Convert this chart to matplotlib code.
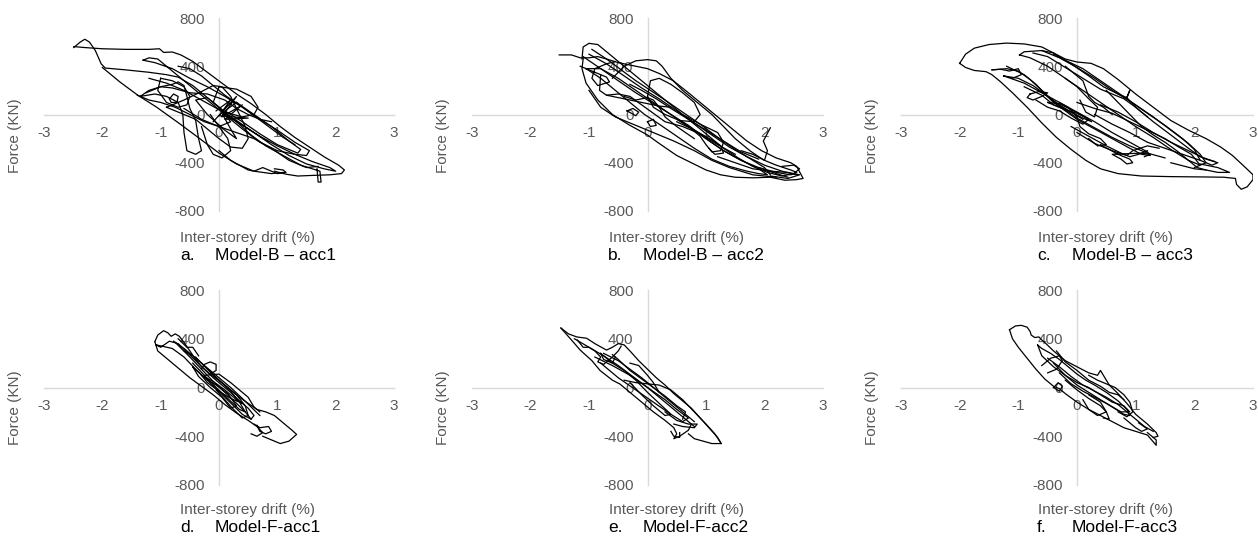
import matplotlib
matplotlib.use("Agg")
import matplotlib.pyplot as plt
import numpy as np

plt.rcParams['font.family'] = ['Liberation Sans', 'DejaVu Sans']

W, H = 1258, 551

# Tick values shared by all panels
x_ticks = [-3, -2, -1, 0, 1, 2, 3]
y_ticks = [-800, -400, 0, 400, 800]

# Captions
letters = ["a.", "b.", "c.", "d.", "e.", "f."]
captions = ["Model-B \u2013 acc1", "Model-B \u2013 acc2", "Model-B \u2013 acc3",
            "Model-F-acc1", "Model-F-acc2", "Model-F-acc3"]

# Hysteresis traces (drift %, force kN)
curves_a = [
    [(-2.49, 563), (-2.3, 555), (-2.0, 545), (-1.6, 540), (-1.2, 540), (-1.02, 545), (-0.95, 515),
     (-0.8, 518), (-0.65, 493), (-0.45, 440), (-0.2, 350), (0.05, 260), (0.3, 170), (0.55, 90),
     (0.8, 0), (1.05, -100), (1.3, -190), (1.55, -270), (1.8, -350), (2.05, -420), (2.15, -460),
     (2.1, -490), (1.9, -500), (1.6, -505), (1.35, -510), (1.15, -495), (0.95, -470)],
    [(-2.49, 555), (-2.38, 600), (-2.3, 624), (-2.22, 600), (-2.12, 530), (-2.02, 420), (-1.95, 385),
     (-1.6, 370), (-1.2, 350), (-0.9, 330), (-0.7, 310), (-0.45, 240), (-0.2, 140), (0.05, 40),
     (0.3, -60), (0.55, -170), (0.8, -260), (1.1, -340), (1.4, -420), (1.73, -470), (1.75, -560),
     (1.7, -560), (1.68, -450)],
    [(-2.0, 390), (-1.7, 270), (-1.39, 159), (-1.07, 61), (-0.67, -78), (-0.33, -200), (0.0, -320),
     (0.3, -410), (0.6, -470), (0.9, -490), (1.1, -480)],
    [(-1.3, 450), (-1.2, 470), (-1.05, 460), (-0.9, 400), (-0.7, 320), (-0.45, 220), (-0.2, 120),
     (0.1, 0), (0.4, -120), (0.7, -230), (1.0, -300), (1.3, -330), (1.5, -340), (1.55, -300),
     (1.3, -230), (1.0, -130), (0.7, -40), (0.4, 60), (0.1, 150), (-0.2, 230), (-0.5, 300),
     (-0.8, 380), (-1.1, 430), (-1.3, 450)],
    [(-1.35, 150), (-1.2, 200), (-1.0, 230), (-0.8, 250), (-0.7, 270), (-0.6, 240), (-0.55, 150),
     (-0.5, 50), (-0.4, -50), (-0.35, -200), (-0.3, -300), (-0.4, -330), (-0.55, -300), (-0.6, -150),
     (-0.62, 0), (-0.7, 100), (-0.9, 150), (-1.1, 170), (-1.35, 150)],
    [(-0.9, 60), (-0.6, 120), (-0.3, 190), (-0.1, 240), (0.05, 230), (0.2, 150), (0.35, 0),
     (0.45, -100), (0.5, -200), (0.4, -280), (0.2, -270), (0.0, -200), (-0.2, -120), (-0.4, -40),
     (-0.7, 20), (-0.9, 60)],
    [(-0.1, -60), (0.3, 150), (0.05, -20), (0.4, 80), (0.1, -40), (0.5, -30), (0.0, -10),
     (0.2, 120), (-0.05, 30)],
    [(0.0, -300), (0.2, -380), (0.5, -460), (0.6, -470), (0.75, -440), (0.9, -470), (1.0, -490),
     (1.15, -480), (1.1, -460), (0.95, -450)],
    [(-0.85, 130), (-0.78, 170), (-0.7, 150), (-0.72, 100), (-0.82, 100), (-0.85, 130)],
    [(0.3, 100), (0.6, 0), (0.9, -100), (1.2, -220), (1.4, -290), (1.35, -320), (1.0, -250),
     (0.7, -160), (0.4, -60), (0.1, 30), (0.3, 100)],
    [(0.0, 230), (0.3, 210), (0.55, 150), (0.67, 60), (0.6, 0), (0.4, -20), (0.1, 20), (-0.1, 100),
     (0.0, 230)],
    [(-1.4, 160), (-1.2, 120), (-1.0, 100), (-0.75, 60), (-0.5, 0), (-0.25, -60), (0.0, -100),
     (0.3, -150), (0.6, -200), (0.9, -280), (1.2, -380), (1.5, -440), (1.7, -430)],
    [(-1.2, 300), (-0.9, 260), (-0.6, 200), (-0.3, 120), (0.0, 40), (0.3, -50), (0.6, -150),
     (0.9, -250), (1.2, -340), (1.5, -410), (1.8, -450), (2.0, -470), (1.9, -440), (1.6, -390),
     (1.3, -330), (1.0, -260), (0.7, -180), (0.4, -90), (0.1, 0)],
    [(-0.7, 400), (-0.5, 380), (-0.3, 320), (-0.1, 240), (0.1, 160), (0.35, 80), (0.6, -10),
     (0.85, -100), (1.1, -190), (1.3, -250)],
    [(-0.6, 50), (-0.3, -40), (0.0, -100), (0.2, -60), (0.0, 60), (-0.2, 140), (-0.4, 120),
     (-0.2, 0), (0.1, -130), (0.3, -200), (0.2, -120), (0.05, 10)],
    [(-1.0, 300), (-0.8, 280), (-0.6, 230), (-0.5, 150), (-0.55, 80), (-0.7, 60), (-0.9, 100),
     (-1.05, 200), (-1.0, 300)],
    [(-0.3, -100), (-0.2, -250), (-0.1, -330), (0.05, -360), (0.2, -300), (0.15, -200), (0.0, -100),
     (-0.15, 0)],
    [(-1.25, 180), (-1.0, 230), (-0.8, 220), (-0.5, 180), (-0.2, 170), (0.1, 120), (0.3, 50),
     (0.5, 0), (0.7, -40), (0.9, -60)],
]

curves_b = [
    [(-1.51, 494), (-1.3, 494), (-1.15, 470), (-1.0, 470), (-0.85, 480), (-0.7, 460), (-0.5, 430),
     (-0.2, 400), (0.0, 380), (0.2, 340), (0.44, 280), (0.7, 180), (0.95, 80), (1.2, -20),
     (1.45, -120), (1.7, -220), (1.95, -300), (2.2, -360), (2.45, -400), (2.55, -430), (2.66, -530),
     (2.55, -540), (2.35, -545), (2.1, -520), (1.8, -525), (1.5, -520), (1.25, -500), (1.0, -460),
     (0.75, -400), (0.5, -340), (0.2, -240), (0.0, -170), (-0.3, -90), (-0.6, 0), (-0.85, 120),
     (-1.05, 260), (-1.12, 380), (-1.1, 460)],
    [(-1.12, 460), (-1.1, 560), (-1.0, 590), (-0.85, 580), (-0.75, 540), (-0.65, 500), (-0.5, 440),
     (-0.3, 360), (-0.1, 280), (0.1, 200), (0.3, 120), (0.5, 40), (0.7, -40), (0.9, -120),
     (1.1, -200), (1.3, -280), (1.55, -360), (1.8, -430), (2.05, -480), (2.3, -510), (2.5, -490),
     (2.6, -450), (2.5, -420), (2.3, -430)],
    [(-0.6, 300), (-0.4, 400), (-0.2, 445), (0.0, 455), (0.15, 445), (0.25, 400), (0.4, 300),
     (0.6, 200), (0.85, 100), (1.1, 0), (1.3, -100), (1.5, -200), (1.75, -300), (1.9, -350),
     (2.0, -380), (2.05, -300), (1.98, -220), (2.1, -110)],
    [(-1.05, 380), (-0.8, 300), (-0.55, 200), (-0.3, 100), (-0.05, 0), (0.2, -80), (0.5, -180),
     (0.8, -280), (1.1, -370), (1.4, -430), (1.7, -470), (1.9, -490), (2.05, -500), (1.9, -450),
     (1.6, -380), (1.3, -300), (1.0, -200), (0.7, -90), (0.4, 0), (0.1, 100), (-0.2, 200),
     (-0.5, 300), (-0.8, 380), (-1.05, 380)],
    [(-0.8, 330), (-0.82, 200), (-0.7, 160), (-0.5, 170), (-0.3, 150), (-0.1, 80), (0.1, 10),
     (0.3, -60), (0.6, -100), (0.9, -160), (1.2, -250), (1.5, -330)],
    [(0.0, 150), (0.05, 280), (0.2, 300), (0.4, 250), (0.6, 180), (0.8, 100), (0.9, 0), (0.8, -60),
     (0.55, -50), (0.3, 0), (0.1, 60), (0.0, 150)],
    [(0.6, 0), (0.9, -80), (1.2, -150), (1.3, -230), (1.25, -300), (1.1, -310), (1.0, -250),
     (0.9, -180), (0.7, -100), (0.5, -40)],
    [(-1.0, 200), (-0.8, 60), (-0.55, -20), (-0.2, -90), (0.1, -150), (0.45, -220), (0.8, -300),
     (1.1, -380), (1.4, -440), (1.8, -500), (2.2, -520)],
    [(-0.35, 30), (-0.25, 50), (-0.15, 20), (-0.2, -10), (-0.35, 30)],
    [(0.0, -60), (0.1, -40), (0.15, -90), (0.05, -100), (0.0, -60)],
    [(-0.7, 160), (-0.4, 130), (-0.1, 100), (0.2, 70), (0.4, 60)],
    [(-1.0, 500), (-0.7, 420), (-0.4, 320), (-0.1, 220), (0.2, 130), (0.5, 30), (0.8, -70),
     (1.1, -170), (1.4, -270), (1.7, -350), (2.0, -420), (2.3, -470), (2.55, -500)],
    [(-1.1, 480), (-0.8, 380), (-0.5, 280), (-0.2, 180), (0.1, 90), (0.4, 0), (0.7, -100),
     (1.0, -200), (1.3, -300), (1.6, -380), (1.9, -440), (2.2, -490), (2.4, -520)],
    [(-0.95, 540), (-0.7, 460), (-0.45, 370), (-0.2, 280), (0.05, 200), (0.3, 120), (0.6, 20),
     (0.9, -80), (1.2, -190), (1.5, -290), (1.8, -380), (2.0, -440), (2.1, -500)],
    [(-1.15, 400), (-0.9, 350), (-0.7, 310), (-0.65, 270), (-0.85, 240), (-0.95, 300), (-0.9, 380),
     (-0.7, 420), (-0.55, 440)],
    [(-0.4, 150), (-0.2, 120), (0.0, 140), (0.1, 120), (0.2, 60), (0.3, -20), (0.5, -100),
     (0.8, -200)],
    [(1.6, -300), (1.8, -330), (2.0, -380), (2.2, -420), (2.45, -460), (2.55, -480), (2.45, -500),
     (2.2, -480), (1.9, -440)],
    [(0.5, -60), (0.8, -130), (1.1, -210), (1.25, -260), (1.3, -320), (1.15, -330), (1.05, -280)],
    [(1.2, -350), (1.5, -400), (1.8, -450), (2.1, -470), (2.4, -480), (2.6, -500), (2.4, -530),
     (2.1, -510)],
    [(-0.3, 250), (-0.1, 200), (0.15, 130), (0.4, 50), (0.7, -40), (1.0, -130), (1.3, -220),
     (1.6, -310), (1.9, -370)],
]

curves_c = [
    [(-2.0, 424), (-1.9, 500), (-1.75, 550), (-1.5, 580), (-1.2, 592), (-0.9, 585), (-0.6, 560),
     (-0.4, 510), (-0.2, 460), (0.0, 435), (0.24, 424), (0.45, 380), (0.7, 290), (1.0, 170),
     (1.3, 60), (1.6, -50), (1.9, -130), (2.2, -200), (2.45, -270), (2.65, -340), (2.85, -430),
     (3.0, -500), (3.0, -540), (2.9, -600), (2.8, -620), (2.72, -580), (2.7, -530), (2.5, -520),
     (2.2, -518), (1.6, -515), (1.1, -510), (0.7, -490), (0.4, -450), (0.15, -380), (-0.1, -290),
     (-0.35, -190), (-0.6, -70), (-0.85, 60), (-1.1, 180), (-1.3, 270), (-1.45, 330),
     (-1.55, 355), (-1.75, 365), (-1.9, 390), (-2.0, 424)],
    [(-0.98, 494), (-0.9, 520), (-0.6, 530), (-0.4, 510), (-0.2, 450), (0.1, 380), (0.4, 280),
     (0.7, 180), (1.0, 80), (1.3, -20), (1.6, -130), (1.9, -240), (2.1, -330), (2.2, -400),
     (2.1, -420), (1.9, -380), (1.6, -290), (1.3, -190), (1.0, -100), (0.7, 0), (0.4, 100),
     (0.1, 200), (-0.2, 300), (-0.5, 400), (-0.8, 470), (-0.98, 494)],
    [(-0.75, 510), (-0.5, 480), (-0.2, 390), (0.1, 300), (0.4, 210), (0.8, 130), (1.0, 60),
     (1.3, -60), (1.6, -170), (1.9, -280), (2.1, -350), (2.35, -390)],
    [(-0.2, 400), (0.1, 280), (0.2, 150), (0.3, 100), (0.45, 60), (0.6, 0)],
    [(-1.25, 320), (-1.0, 300), (-0.75, 240), (-0.55, 170), (-0.4, 100), (-0.2, 30), (0.0, -40),
     (0.3, -120), (0.6, -200), (0.9, -280), (1.1, -330), (1.25, -340), (1.2, -310), (0.9, -230),
     (0.6, -150), (0.3, -60), (0.0, 20), (-0.3, 100), (-0.6, 180), (-0.9, 260), (-1.25, 320)],
    [(-0.8, 170), (-0.85, 140), (-0.75, 120), (-0.6, 150), (-0.5, 180), (-0.65, 190), (-0.8, 170)],
    [(0.3, 0), (0.6, -80), (0.9, -150), (1.2, -230), (1.5, -280), (1.8, -330), (2.1, -380),
     (2.3, -420), (2.4, -400), (2.2, -370), (1.9, -300), (1.6, -230), (1.3, -150), (1.0, -60),
     (0.7, 20), (0.4, 80)],
    [(0.4, -250), (0.7, -330), (0.9, -370), (0.95, -400), (0.85, -410), (0.75, -370), (0.6, -330),
     (1.1, -320), (1.25, -330), (1.15, -350)],
    [(-0.5, 100), (-0.3, 60), (-0.1, 20), (0.1, -30), (0.25, -60), (0.1, -10), (-0.1, 40),
     (-0.3, 90), (-0.5, 100)],
    [(1.6, -400), (2.0, -450), (2.2, -460), (2.4, -480), (2.6, -480), (2.4, -440), (2.1, -410)],
    [(-1.45, 370), (-1.2, 380), (-1.0, 360), (-0.8, 290), (-0.6, 200), (-0.4, 110), (-0.2, 40),
     (0.0, -30), (0.3, -110), (0.6, -190), (0.9, -260), (1.2, -320), (1.5, -360)],
    [(-0.6, 530), (-0.3, 470), (0.0, 390), (0.3, 300), (0.6, 200), (0.9, 110), (1.2, 10),
     (1.5, -90), (1.8, -200), (2.0, -290), (2.1, -380)],
    [(-0.4, 500), (-0.1, 420), (0.2, 320), (0.45, 230), (0.7, 170), (0.85, 140), (0.9, 200),
     (0.85, 140), (1.0, 60), (1.2, -20)],
    [(0.0, 100), (0.3, 50), (0.6, 10), (0.9, -60), (1.2, -130), (1.5, -200), (1.7, -260),
     (1.95, -330), (2.1, -420), (2.0, -440)],
    [(-0.9, 230), (-0.6, 160), (-0.4, 80), (-0.2, 40), (0.0, 10), (0.2, -40), (0.1, -80),
     (-0.1, -30), (-0.3, 30), (-0.5, 60), (-0.7, 120)],
    [(-0.3, 100), (-0.15, 60), (0.0, -20), (0.05, -100), (0.2, -160), (0.4, -200), (0.5, -250),
     (0.35, -260), (0.2, -200)],
    [(-1.45, 370), (-1.3, 375), (-1.15, 360), (-1.0, 380), (-0.95, 330), (-1.1, 300)],
    [(-0.2, 300), (0.0, 230), (0.2, 130), (0.35, 60), (0.3, -20), (0.15, 20), (0.05, 120)],
    [(-0.1, -100), (0.2, -180), (0.5, -260), (0.75, -320), (0.9, -350), (1.05, -330), (1.2, -300)],
    [(0.0, -150), (0.3, -240), (0.6, -300), (0.85, -340), (0.95, -300), (1.2, -260), (1.4, -280)],
    [(0.5, 200), (0.7, 100), (0.9, 0), (1.1, -100), (1.3, -170), (1.5, -230), (1.7, -300),
     (1.9, -380), (2.05, -440), (2.2, -460)],
    [(-1.2, 400), (-0.9, 330), (-0.7, 250), (-0.5, 150), (-0.3, 80), (-0.1, 20), (0.1, -40)],
]

curves_d = [
    [(-1.1, 376), (-1.05, 430), (-0.95, 466), (-0.88, 450), (-0.82, 420), (-0.75, 440),
     (-0.68, 420), (-0.6, 370), (-0.5, 300), (-0.4, 230), (-0.3, 170), (-0.2, 130), (-0.1, 90),
     (0.05, 40), (0.2, -20), (0.35, -80), (0.5, -130), (0.65, -180), (0.8, -200), (0.95, -230),
     (1.1, -290), (1.25, -350), (1.33, -385), (1.2, -440), (1.05, -460), (0.9, -430), (0.75, -400)],
    [(-1.1, 376), (-1.05, 300), (-0.9, 240), (-0.7, 160), (-0.5, 80), (-0.3, 10), (-0.1, -60),
     (0.1, -140), (0.3, -210), (0.5, -270), (0.65, -320), (0.75, -370), (0.65, -400), (0.55, -380)],
    [(-1.08, 350), (-1.0, 330), (-0.85, 380), (-0.7, 360), (-0.55, 290), (-0.4, 220), (-0.25, 150),
     (-0.1, 80), (0.05, 20), (0.2, -40), (0.35, -110), (0.5, -170), (0.6, -230), (0.55, -260),
     (0.4, -220), (0.25, -150), (0.1, -80), (-0.05, -10), (-0.2, 60), (-0.4, 150), (-0.6, 250),
     (-0.8, 320), (-1.08, 350)],
    [(-0.3, 150), (-0.25, 190), (-0.15, 210), (-0.05, 190), (-0.05, 140), (-0.15, 110)],
    [(-0.4, 250), (-0.2, 150), (0.0, 60), (0.2, -30), (0.35, -120), (0.45, -200), (0.35, -180),
     (0.15, -90), (-0.05, 0), (-0.25, 100), (-0.45, 200)],
    [(-0.3, 100), (-0.1, 50), (0.1, -20), (0.3, -100), (0.4, -130), (0.2, -90), (0.0, -30),
     (-0.2, 40), (-0.3, 100)],
    [(0.6, -300), (0.7, -330), (0.85, -320), (0.9, -360), (0.8, -380), (0.7, -360), (0.65, -310)],
    [(-0.78, 380), (-0.6, 320), (-0.4, 240), (-0.2, 160), (0.0, 80), (0.2, 0), (0.4, -90),
     (0.55, -160), (0.7, -230)],
    [(-0.75, 370), (-0.5, 250), (-0.3, 150), (-0.1, 50), (0.1, -40), (0.3, -130), (0.45, -200),
     (0.55, -260)],
    [(-0.6, 300), (-0.45, 260), (-0.3, 200), (-0.15, 130), (0.0, 60), (0.15, 0), (0.3, -60),
     (0.45, -150), (0.5, -230), (0.4, -250), (0.25, -180), (0.1, -100), (-0.05, -20)],
    [(-0.45, 170), (-0.25, 80), (-0.05, 20), (0.15, -50), (0.3, -150), (0.2, -170), (0.05, -80),
     (-0.15, 0), (-0.35, 90), (-0.45, 170)],
    [(-0.25, 100), (0.0, 110), (0.2, 40), (0.35, -20), (0.5, -80), (0.6, -160), (0.7, -200)],
    [(-0.7, 400), (-0.55, 330), (-0.45, 330), (-0.35, 260)],
]

curves_e = [
    [(-1.48, 488), (-1.35, 440), (-1.21, 415), (-1.04, 404), (-0.9, 360), (-0.7, 307), (-0.6, 330),
     (-0.5, 360), (-0.4, 350), (-0.3, 300), (-0.15, 220), (0.0, 150), (0.15, 80), (0.3, 20),
     (0.45, -50), (0.6, -110), (0.75, -170), (0.9, -250), (1.05, -330), (1.2, -410), (1.26, -460),
     (1.1, -460), (0.95, -440), (0.8, -420), (0.7, -380)],
    [(-1.48, 488), (-1.3, 390), (-1.15, 307), (-0.95, 220), (-0.81, 139), (-0.6, 60), (-0.47, 28),
     (-0.3, -40), (-0.1, -120), (0.1, -200), (0.3, -270), (0.45, -330), (0.5, -380), (0.45, -420),
     (0.55, -400), (0.7, -350), (0.75, -300)],
    [(-0.4, 60), (-0.2, 40), (0.0, 30), (0.2, 20), (0.4, -20), (0.6, -100), (0.8, -200),
     (1.0, -300), (1.15, -380), (1.26, -460)],
    [(-1.2, 390), (-1.1, 330), (-1.0, 330), (-0.9, 300), (-0.8, 250), (-0.85, 210), (-0.75, 190),
     (-0.6, 250), (-0.5, 300), (-0.45, 340)],
    [(-0.9, 250), (-0.6, 180), (-0.3, 100), (0.0, 0), (0.3, -100), (0.5, -180), (0.7, -250),
     (0.6, -280), (0.4, -220), (0.1, -120), (-0.2, -20), (-0.5, 80), (-0.8, 200)],
    [(0.3, -200), (0.5, -270), (0.7, -300), (0.85, -300), (0.8, -330), (0.6, -320), (0.45, -300)],
    [(0.4, -360), (0.45, -400), (0.55, -410), (0.55, -370)],
    [(-0.75, 280), (-0.5, 220), (-0.3, 150), (-0.1, 80), (0.1, 0), (0.3, -80), (0.5, -160),
     (0.65, -220), (0.8, -280)],
    [(-1.25, 400), (-1.0, 330), (-0.75, 260), (-0.5, 180), (-0.25, 90), (0.0, 0), (0.25, -100),
     (0.45, -180), (0.6, -240), (0.75, -300), (0.8, -320)],
    [(-0.8, 280), (-0.6, 200), (-0.4, 140), (-0.2, 60), (0.0, -40), (0.2, -130), (0.4, -220),
     (0.3, -230), (0.1, -150), (-0.1, -60), (-0.3, 40)],
    [(-0.6, 270), (-0.5, 230), (-0.3, 140), (-0.1, 70), (0.1, 0), (0.3, -70), (0.5, -150),
     (0.65, -200), (0.6, -260)],
    [(-0.8, 280), (-0.75, 230), (-0.6, 200), (-0.55, 250)],
    [(-0.3, 200), (-0.15, 180), (0.0, 100), (0.1, 40), (0.2, -40)],
]

curves_f = [
    [(-1.15, 474), (-1.05, 505), (-0.95, 510), (-0.85, 495), (-0.8, 460), (-0.78, 430),
     (-0.72, 410), (-0.65, 415), (-0.6, 390), (-0.55, 370), (-0.4, 300), (-0.2, 220), (0.0, 170),
     (0.2, 120), (0.35, 100), (0.4, 140), (0.45, 100), (0.55, 20), (0.7, -50), (0.85, -130),
     (1.0, -220), (1.2, -300), (1.35, -370), (1.38, -400), (1.3, -410)],
    [(-1.15, 474), (-1.1, 400), (-1.0, 330), (-0.85, 240), (-0.7, 150), (-0.55, 70), (-0.4, 10),
     (-0.3, -10), (-0.2, -50), (0.0, -120), (0.2, -180), (0.4, -230), (0.6, -280), (0.8, -330),
     (1.0, -360), (1.2, -390), (1.35, -474), (1.35, -430), (1.2, -370)],
    [(-0.67, 348), (-0.6, 320), (-0.45, 280), (-0.3, 230), (-0.15, 170), (0.0, 110), (0.15, 60),
     (0.3, 20), (0.5, -40), (0.7, -110), (0.85, -180), (0.9, -230), (0.8, -220), (0.6, -160),
     (0.4, -100), (0.2, -40), (0.0, 20), (-0.2, 100), (-0.4, 170), (-0.6, 260), (-0.67, 348)],
    [(-0.6, 180), (-0.45, 240), (-0.3, 260), (-0.25, 220), (-0.35, 150), (-0.5, 120)],
    [(-0.4, 200), (-0.2, 100), (0.0, 40), (0.2, 0), (0.4, -60), (0.6, -120), (0.8, -150),
     (0.9, -200), (0.75, -200), (0.5, -130), (0.3, -80), (0.1, -30), (-0.1, 30), (-0.3, 120)],
    [(0.1, -100), (0.2, -180), (0.35, -230), (0.5, -200), (0.4, -120), (0.2, -60)],
    [(0.8, -250), (1.0, -330), (1.1, -360), (1.2, -340), (1.05, -290)],
    [(-0.4, 0), (-0.32, 40), (-0.25, 10), (-0.3, -30), (-0.4, 0)],
    [(-0.5, 240), (-0.3, 170), (-0.1, 90), (0.1, 20), (0.3, -30), (0.5, -80), (0.7, -140),
     (0.85, -200), (1.0, -260), (1.15, -320), (1.3, -360)],
    [(-0.35, 300), (-0.2, 210), (0.0, 140), (0.2, 60), (0.4, 10), (0.55, -40), (0.7, -60),
     (0.8, -100)],
    [(-0.2, 60), (0.0, -20), (0.2, -90), (0.4, -150), (0.5, -200), (0.55, -260), (0.45, -250)],
    [(0.2, 100), (0.35, 60), (0.5, 30), (0.65, 0), (0.8, -60), (0.9, -120), (0.95, -200),
     (0.85, -240), (0.7, -200)],
]

all_curves = [curves_a, curves_b, curves_c, curves_d, curves_e, curves_f]

# panel boxes in pixels: (left, right) and (top, bottom)
col_x = [(44, 394), (472, 823), (901, 1253)]
row_y = [(18, 211), (290, 485)]

fig = plt.figure(figsize=(W / 100, H / 100), dpi=100)

grey = '#595959'
axis_grey = '#d9d9d9'

for i, curves in enumerate(all_curves):
    r, c = divmod(i, 3)
    x0, x1 = col_x[c]
    y0, y1 = row_y[r]
    ax = fig.add_axes([x0 / W, 1 - y1 / H, (x1 - x0) / W, (y1 - y0) / H])
    for seg in curves:
        xs, ys = zip(*seg)
        ax.plot(xs, ys, color='black', lw=0.9, solid_joinstyle='round')
    ax.set_xlim(-3, 3)
    ax.set_ylim(-800, 800)
    for s in ['top', 'right']:
        ax.spines[s].set_visible(False)
    ax.spines['left'].set_position('zero')
    ax.spines['bottom'].set_position('zero')
    for s in ['left', 'bottom']:
        ax.spines[s].set_color(axis_grey)
        ax.spines[s].set_linewidth(1.0)
        ax.spines[s].set_zorder(0)
    ax.set_xticks(x_ticks)
    ax.set_yticks(y_ticks)
    ax.set_xticklabels([str(v) for v in x_ticks])
    ax.set_yticklabels([str(v) for v in y_ticks])
    ax.tick_params(length=0, labelsize=11, labelcolor=grey)
    ax.tick_params(axis='x', pad=8)
    ax.tick_params(axis='y', pad=10)
    ax.patch.set_alpha(0)

    # axis titles and caption
    xc = x0 + 29
    fig.text((x0 - 29) / W, 1 - (y0 + 118) / H, "Force (KN)", rotation=90, ha='center',
             va='center', fontsize=11, color=grey)
    fig.text((xc + (x1 - x0) / 2) / W, 1 - (y0 + 220) / H, "Inter-storey drift (%)",
             ha='center', va='center', fontsize=11, color=grey)
    fig.text((x0 + 136) / W, 1 - (y0 + 238) / H, letters[i], ha='left', va='center',
             fontsize=12.5, color='black')
    fig.text((x0 + 171) / W, 1 - (y0 + 238) / H, captions[i], ha='left', va='center',
             fontsize=12.5, color='black')

fig.savefig('out.png', dpi=100)
